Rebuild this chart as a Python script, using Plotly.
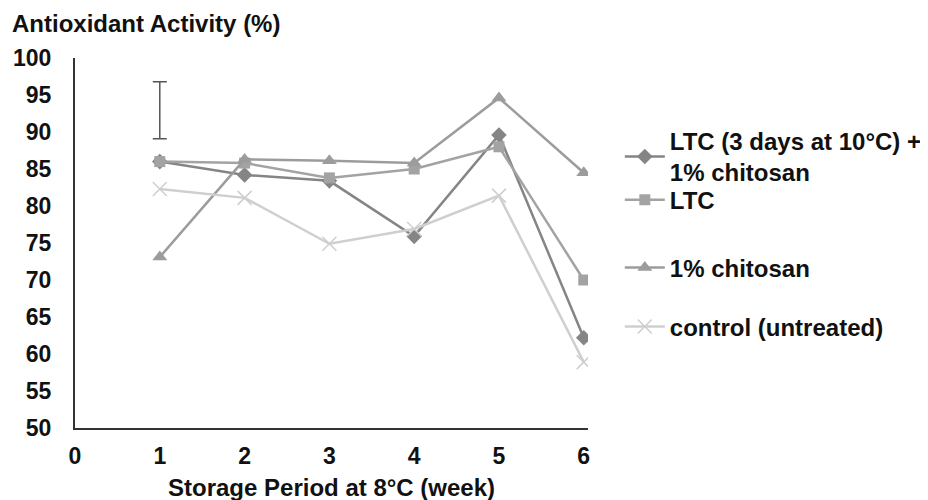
import plotly.graph_objects as go

weeks = [1, 2, 3, 4, 5, 6]
ltc_chitosan = [86.0, 84.2, 83.4, 75.9, 89.6, 62.2]
ltc = [86.0, 85.8, 83.8, 85.0, 88.0, 70.0]
chitosan = [73.1, 86.3, 86.1, 85.8, 94.6, 84.5]
control = [82.3, 81.1, 74.9, 76.9, 81.4, 58.9]

names = ["LTC (3 days at 10°C) +<br>1% chitosan", "LTC", "1% chitosan", "control (untreated)"]

err_x = [1]
err_center = [92.95]
err_half = [3.85]

x_ticks = [0, 1, 2, 3, 4, 5, 6]
y_ticks = [50, 55, 60, 65, 70, 75, 80, 85, 90, 95, 100]

FONT = "Liberation Sans, Arial, sans-serif"
TXT = "#111111"

fig = go.Figure()

styles = [
    ("#858585", dict(symbol="diamond", size=12, color="#858585")),
    ("#a3a3a3", dict(symbol="square", size=11, color="#a3a3a3")),
    ("#9c9c9c", dict(symbol="triangle-up", size=13, color="#9c9c9c")),
    ("#cfcfcf", dict(symbol="x-thin", size=14, color="#cfcfcf", line=dict(width=1.5, color="#cfcfcf"))),
]
series = [ltc_chitosan, ltc, chitosan, control]
legend_ids = ["legend", "legend2", "legend3", "legend4"]

for i, vals in enumerate(series):
    col, mk = styles[i]
    fig.add_trace(go.Scatter(
        x=weeks, y=vals, name=names[i], mode="lines+markers",
        line=dict(color=col, width=2.5), marker=mk,
        legend=legend_ids[i],
    ))

fig.add_trace(go.Scatter(
    x=err_x, y=err_center, mode="markers",
    marker=dict(size=1, color="rgba(0,0,0,0)"),
    error_y=dict(type="data", array=err_half, color="#555555", thickness=1.5, width=7),
    showlegend=False, hoverinfo="skip",
))

legend_y = [0.733, 0.616, 0.433, 0.273]
leg_common = dict(
    x=1.062, xanchor="left", yanchor="middle",
    font=dict(family=FONT, size=24, color=TXT, weight="bold"),
    valign="middle", itemwidth=40, bgcolor="rgba(0,0,0,0)",
    borderwidth=0,
)
layout_legends = {}
for lid, ly in zip(legend_ids, legend_y):
    layout_legends[lid] = dict(leg_common, y=ly)

fig.update_layout(
    width=920, height=492,
    margin=dict(l=67, r=340, t=50, b=72, autoexpand=False),
    paper_bgcolor="white", plot_bgcolor="white",
    font=dict(family=FONT, size=23, color=TXT),
    showlegend=True,
    xaxis=dict(
        range=[0, 6.05], tickvals=x_ticks, ticktext=[str(v) for v in x_ticks],
        showgrid=False, zeroline=False, showline=True, linecolor="#333333", linewidth=2,
        ticks="", ticklabelstandoff=6, automargin=False,
        tickfont=dict(family=FONT, size=23, weight="bold", color=TXT),
    ),
    yaxis=dict(
        range=[50, 100], tickvals=y_ticks, ticktext=[str(v) for v in y_ticks],
        showgrid=False, zeroline=False, showline=True, linecolor="#333333", linewidth=2,
        ticks="", ticklabelstandoff=17, automargin=False,
        tickfont=dict(family=FONT, size=23, weight="bold", color=TXT),
    ),
    annotations=[
        dict(text="Antioxidant Activity (%)", xref="paper", yref="paper",
             x=-0.127, y=1.092, xanchor="left", yanchor="middle",
             showarrow=False, font=dict(family=FONT, size=24, weight="bold", color=TXT)),
        dict(text="Storage Period at 8°C (week)", xref="paper", yref="paper",
             x=0.5, y=-0.162, xanchor="center", yanchor="middle",
             showarrow=False, font=dict(family=FONT, size=24, weight="bold", color=TXT)),
    ],
    **layout_legends,
)

fig.write_html("out.html")
